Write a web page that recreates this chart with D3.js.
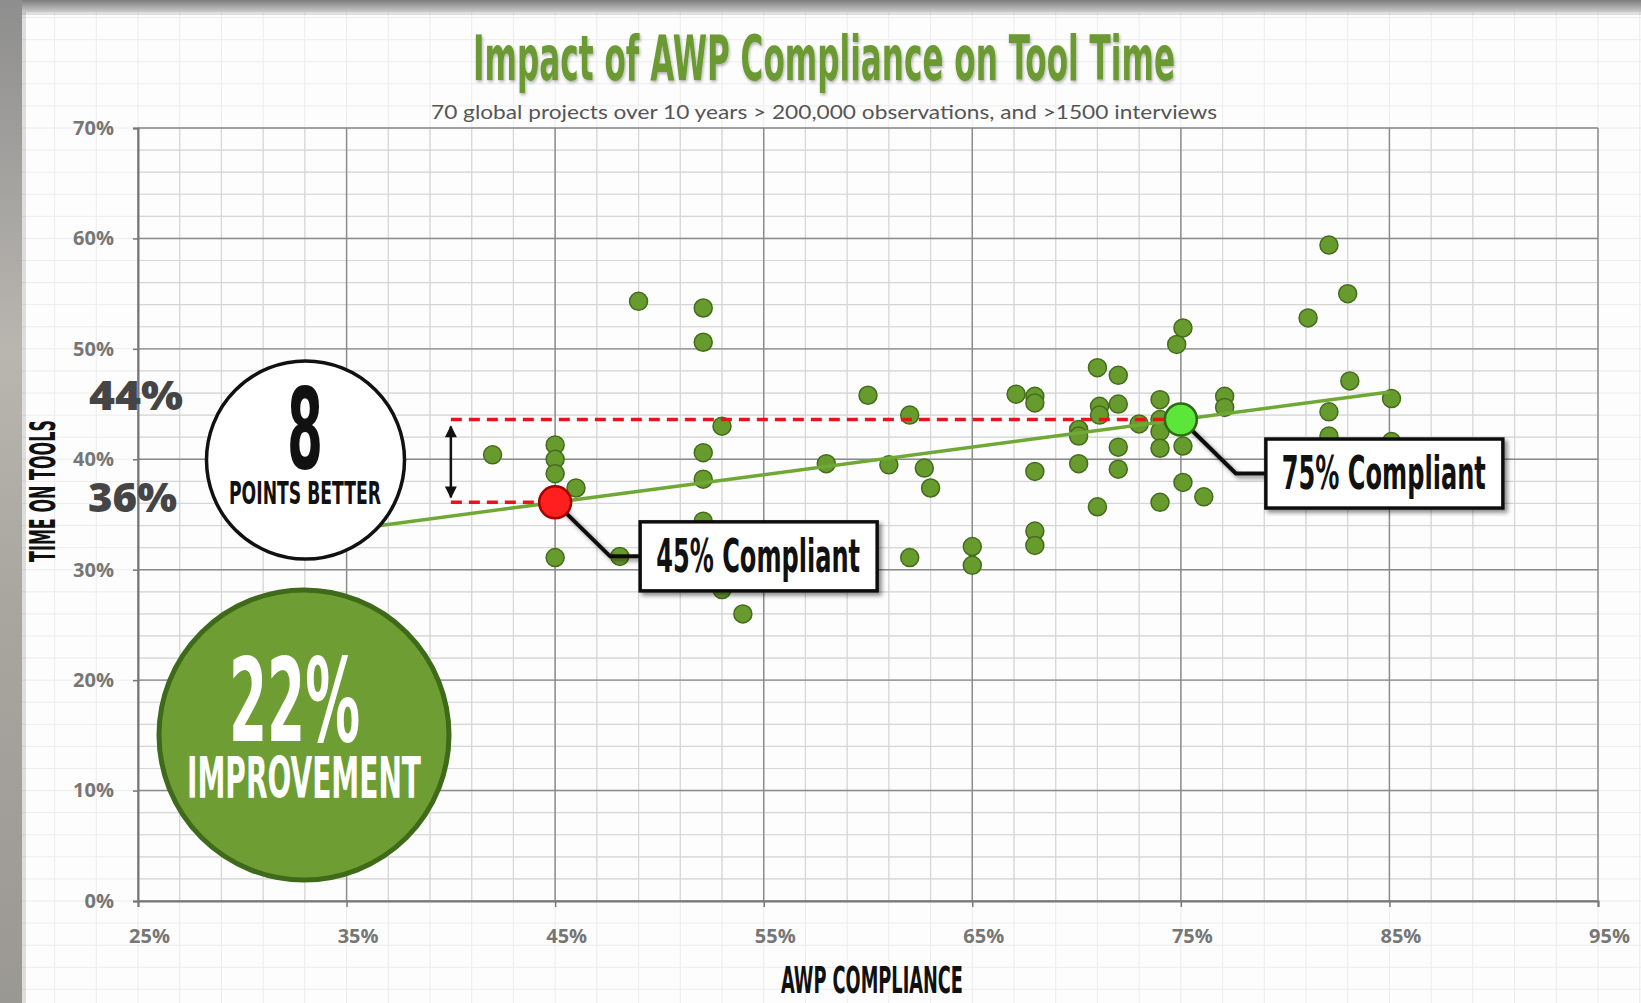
<!DOCTYPE html>
<html>
<head>
<meta charset="utf-8">
<script src="https://cdn.jsdelivr.net/npm/d3@7"></script>
<style>
  body { margin: 0; background: #fff; }
  svg { display: block; }
</style>
</head>
<body>
<div id="chart"></div>
<script>
// scatter: AWP compliance (%) vs time on tools (%)
var compliance = [42.0, 45.0, 45.0, 45.0, 45.0, 46.0, 48.1, 49.0, 52.1, 52.1, 52.1, 52.1, 52.1, 53.0, 53.0, 54.0,
                  58.0, 60.0, 61.0, 62.0, 62.7, 63.0, 62.0, 65.0, 65.0,
                  67.1, 68.0, 68.0, 68.0, 68.0, 68.0, 70.1, 70.1, 70.1, 71.0, 71.1, 71.1, 71.0,
                  72.0, 72.0, 72.0, 72.0, 73.0, 74.0, 74.0, 74.0, 74.0, 74.0, 74.8, 75.1, 75.1, 75.1,
                  76.1, 77.1, 77.1, 81.1, 82.1, 82.1, 82.1, 83.0, 83.1, 85.1, 85.1];
var toolTime   = [40.4, 41.3, 40.0, 38.7, 31.1, 37.4, 31.2, 54.3, 53.7, 50.6, 40.6, 38.2, 34.4, 43.0, 28.2, 26.0,
                  39.6, 45.8, 39.5, 44.0, 39.2, 37.4, 31.1, 32.1, 30.4,
                  45.9, 45.7, 45.1, 38.9, 33.5, 32.2, 42.7, 42.1, 39.6, 48.3, 44.8, 44.0, 35.7,
                  47.6, 45.0, 41.1, 39.1, 43.2, 45.4, 43.6, 42.5, 41.0, 36.1, 50.4, 51.9, 41.2, 37.9,
                  36.6, 45.7, 44.7, 52.8, 59.4, 44.3, 42.1, 55.0, 47.1, 45.5, 41.6];

var xTicks = [25, 35, 45, 55, 65, 75, 85, 95];
var yTicks = [0, 10, 20, 30, 40, 50, 60, 70];

var highlightX = [45, 75];
var highlightY = [36.1, 43.6];
var highlightLabels = ["45% Compliant", "75% Compliant"];
var highlightColors = ["#ff1f1f", "#5de63a"];
var highlightStroke = ["#a30000", "#2d6a12"];

var trendX = [35, 85];
var trendY = [33.6, 46.1];

var gapStart = 40;          // red dashed guides start here
var gapLabels = ["44%", "36%"];

var width = 1641, height = 1003;
var condensed = "'Liberation Sans Narrow', 'DejaVu Sans Condensed', 'Roboto Condensed', sans-serif";

var svg = d3.select("#chart").append("svg")
    .attr("width", width)
    .attr("height", height);

var defs = svg.append("defs");

var sh = defs.append("filter").attr("id", "shadow").attr("x", "-10%").attr("y", "-10%").attr("width", "130%").attr("height", "140%");
sh.append("feDropShadow").attr("dx", 3).attr("dy", 3).attr("stdDeviation", 2).attr("flood-color", "#000").attr("flood-opacity", 0.45);

var tsh = defs.append("filter").attr("id", "tshadow").attr("x", "-5%").attr("y", "-20%").attr("width", "110%").attr("height", "150%");
tsh.append("feDropShadow").attr("dx", 1).attr("dy", 2).attr("stdDeviation", 1.5).attr("flood-color", "#000").attr("flood-opacity", 0.3);

var topGrad = defs.append("linearGradient").attr("id", "topGrad").attr("x1", 0).attr("y1", 0).attr("x2", 0).attr("y2", 1);
topGrad.append("stop").attr("offset", "0%").attr("stop-color", "#7c7c7c");
topGrad.append("stop").attr("offset", "100%").attr("stop-color", "#c9c9c9");

var leftGrad = defs.append("linearGradient").attr("id", "leftGrad").attr("x1", 0).attr("y1", 0).attr("x2", 0).attr("y2", 1);
leftGrad.append("stop").attr("offset", "0%").attr("stop-color", "#8e8e8e");
leftGrad.append("stop").attr("offset", "35%").attr("stop-color", "#b9b6b0");
leftGrad.append("stop").attr("offset", "60%").attr("stop-color", "#a9a6a0");
leftGrad.append("stop").attr("offset", "100%").attr("stop-color", "#9a9893");

defs.append("marker")
    .attr("id", "arrow")
    .attr("viewBox", "0 0 10 10")
    .attr("refX", 9).attr("refY", 5)
    .attr("markerWidth", 13).attr("markerHeight", 12)
    .attr("markerUnits", "userSpaceOnUse")
    .attr("orient", "auto-start-reverse")
  .append("path")
    .attr("d", "M0,0 L10,5 L0,10 z")
    .attr("fill", "#111");

var x = d3.scaleLinear().domain([25, 95]).range([138, 1598]);
var y = d3.scaleLinear().domain([0, 70]).range([901, 128]);

svg.append("rect").attr("width", width).attr("height", height).attr("fill", "#fdfdfd");

// faint graph-paper background
var bg = svg.append("g");
bg.selectAll(".bgv").data(d3.range(17, 103, 2)).enter().append("line")
    .attr("x1", function(d) { return x(d); }).attr("x2", function(d) { return x(d); })
    .attr("y1", 0).attr("y2", height)
    .attr("stroke", "#ececec").attr("stroke-width", 1);
bg.selectAll(".bgh").data(d3.range(-10, 84, 2)).enter().append("line")
    .attr("y1", function(d) { return y(d); }).attr("y2", function(d) { return y(d); })
    .attr("x1", 0).attr("x2", width)
    .attr("stroke", "#ececec").attr("stroke-width", 1);

// photo frame edges
svg.append("rect").attr("x", 0).attr("y", 0).attr("width", width).attr("height", 12).attr("fill", "url(#topGrad)");
svg.append("rect").attr("x", 0).attr("y", 0).attr("width", 22).attr("height", height).attr("fill", "url(#leftGrad)");
svg.append("rect").attr("x", 22).attr("y", 12).attr("width", 4).attr("height", height).attr("fill", "#000").attr("opacity", 0.12);
svg.append("rect").attr("x", 22).attr("y", 12).attr("width", width).attr("height", 3).attr("fill", "#000").attr("opacity", 0.12);

// plot grid
var grid = svg.append("g");
grid.selectAll(".mv").data(d3.range(25, 95.1, 2)).enter().append("line")
    .attr("x1", function(d) { return x(d); }).attr("x2", function(d) { return x(d); })
    .attr("y1", y(0)).attr("y2", y(70))
    .attr("stroke", "#d6d6d6").attr("stroke-width", 1.2);
grid.selectAll(".mh").data(d3.range(0, 70.1, 2)).enter().append("line")
    .attr("y1", function(d) { return y(d); }).attr("y2", function(d) { return y(d); })
    .attr("x1", x(25)).attr("x2", x(95))
    .attr("stroke", "#d6d6d6").attr("stroke-width", 1.2);
grid.selectAll(".jv").data(xTicks).enter().append("line")
    .attr("x1", function(d) { return x(d); }).attr("x2", function(d) { return x(d); })
    .attr("y1", y(0)).attr("y2", y(70))
    .attr("stroke", "#8a8a8a").attr("stroke-width", 1.4);
grid.selectAll(".jh").data(yTicks).enter().append("line")
    .attr("y1", function(d) { return y(d); }).attr("y2", function(d) { return y(d); })
    .attr("x1", x(25)).attr("x2", x(95))
    .attr("stroke", "#8a8a8a").attr("stroke-width", 1.4);

// axes
var xAxis = svg.append("g")
    .attr("transform", "translate(0," + y(0) + ")")
    .call(d3.axisBottom(x).tickValues(xTicks).tickFormat(function(d) { return d + "%"; }).tickSize(6).tickPadding(22));
var yAxis = svg.append("g")
    .attr("transform", "translate(" + x(25) + ",0)")
    .call(d3.axisLeft(y).tickValues(yTicks).tickFormat(function(d) { return d + "%"; }).tickSize(5).tickPadding(19));
[xAxis, yAxis].forEach(function(a) {
    a.select(".domain").attr("stroke", "#777").attr("stroke-width", 2);
    a.selectAll(".tick line").attr("stroke", "#777").attr("stroke-width", 1.5);
    a.selectAll(".tick text")
        .attr("fill", "#767676")
        .style("font-family", "'Open Sans', sans-serif")
        .style("font-weight", 700)
        .style("font-size", "20px");
});
xAxis.selectAll(".tick text").attr("dx", 11);

// scatter points
var pts = compliance.map(function(c, i) { return { x: c, y: toolTime[i] }; });
svg.append("g").selectAll("circle").data(pts).enter().append("circle")
    .attr("cx", function(d) { return x(d.x); })
    .attr("cy", function(d) { return y(d.y); })
    .attr("r", 9)
    .attr("fill", "#689b2d")
    .attr("stroke", "#436c1b")
    .attr("stroke-width", 1.5);

// trend line
var trend = trendX.map(function(t, i) { return [t, trendY[i]]; });
svg.append("path")
    .attr("d", d3.line().x(function(d) { return x(d[0]); }).y(function(d) { return y(d[1]); })(trend))
    .attr("fill", "none")
    .attr("stroke", "#6fa834")
    .attr("stroke-width", 3.5);

// red dashed guides
svg.append("line")
    .attr("x1", x(gapStart)).attr("x2", x(highlightX[1]))
    .attr("y1", y(highlightY[1])).attr("y2", y(highlightY[1]))
    .attr("stroke", "#e8141b").attr("stroke-width", 3.5).attr("stroke-dasharray", "11,7");
svg.append("line")
    .attr("x1", x(gapStart)).attr("x2", x(highlightX[0]))
    .attr("y1", y(highlightY[0])).attr("y2", y(highlightY[0]))
    .attr("stroke", "#e8141b").attr("stroke-width", 3.5).attr("stroke-dasharray", "11,7");

svg.append("line")
    .attr("x1", x(gapStart)).attr("x2", x(gapStart))
    .attr("y1", y(highlightY[1]) + 7).attr("y2", y(highlightY[0]) - 5)
    .attr("stroke", "#111").attr("stroke-width", 2.5)
    .attr("marker-start", "url(#arrow)")
    .attr("marker-end", "url(#arrow)");

// highlighted projects with callouts
highlightX.forEach(function(hx, i) {
    var cx = x(hx), cy = y(highlightY[i]);
    var elbowX = cx + 55, elbowY = cy + 54;
    var boxX = elbowX + 30, boxW = 237, boxH = 69;
    svg.append("path")
        .attr("d", "M" + cx + "," + cy + "L" + elbowX + "," + elbowY + "L" + boxX + "," + elbowY)
        .attr("fill", "none").attr("stroke", "#111").attr("stroke-width", 4)
        .attr("filter", "url(#shadow)");
    svg.append("circle")
        .attr("cx", cx).attr("cy", cy).attr("r", 16)
        .attr("fill", highlightColors[i])
        .attr("stroke", highlightStroke[i]).attr("stroke-width", 2.5);
    svg.append("rect")
        .attr("x", boxX).attr("y", elbowY - boxH / 2)
        .attr("width", boxW).attr("height", boxH)
        .attr("fill", "#fff").attr("stroke", "#111").attr("stroke-width", 3.5)
        .attr("filter", "url(#shadow)");
    svg.append("text")
        .attr("x", boxX + 16).attr("y", elbowY - boxH / 2 + 50)
        .attr("font-family", condensed).attr("font-weight", "bold")
        .attr("font-size", 47)
        .attr("textLength", 204).attr("lengthAdjust", "spacingAndGlyphs")
        .attr("fill", "#111")
        .text(highlightLabels[i]);
});

// "8 POINTS BETTER" badge
svg.append("circle").attr("cx", 305.5).attr("cy", 460).attr("r", 99)
    .attr("fill", "#fff").attr("stroke", "#111").attr("stroke-width", 3.5);
svg.append("text").attr("x", 287).attr("y", 468)
    .attr("font-family", condensed).attr("font-weight", "bold").attr("font-size", 112)
    .attr("textLength", 36).attr("lengthAdjust", "spacingAndGlyphs").attr("fill", "#111")
    .text("8");
svg.append("text").attr("x", 229).attr("y", 504)
    .attr("font-family", condensed).attr("font-weight", "bold").attr("font-size", 32)
    .attr("textLength", 152).attr("lengthAdjust", "spacingAndGlyphs").attr("fill", "#111")
    .text("POINTS BETTER");

// "22% IMPROVEMENT" badge
svg.append("circle").attr("cx", 304).attr("cy", 735).attr("r", 145)
    .attr("fill", "#6e9e33").attr("stroke", "#3e6a1a").attr("stroke-width", 5);
svg.append("text").attr("x", 229).attr("y", 741)
    .attr("font-family", condensed).attr("font-weight", "bold").attr("font-size", 115)
    .attr("textLength", 131).attr("lengthAdjust", "spacingAndGlyphs").attr("fill", "#fff")
    .text("22%");
svg.append("text").attr("x", 187).attr("y", 798)
    .attr("font-family", condensed).attr("font-weight", "bold").attr("font-size", 57)
    .attr("textLength", 234).attr("lengthAdjust", "spacingAndGlyphs").attr("fill", "#fff")
    .text("IMPROVEMENT");

// 44% / 36% side labels
svg.append("text").attr("x", 89).attr("y", 410)
    .attr("font-family", "'Open Sans', sans-serif").attr("font-weight", 800).attr("font-size", 41)
    .attr("textLength", 94).attr("lengthAdjust", "spacingAndGlyphs").attr("fill", "#454545")
    .text(gapLabels[0]);
svg.append("text").attr("x", 88).attr("y", 512)
    .attr("font-family", "'Open Sans', sans-serif").attr("font-weight", 800).attr("font-size", 41)
    .attr("textLength", 89).attr("lengthAdjust", "spacingAndGlyphs").attr("fill", "#454545")
    .text(gapLabels[1]);

// titles
svg.append("text").attr("x", 473).attr("y", 80)
    .attr("font-family", condensed).attr("font-weight", "bold").attr("font-size", 63)
    .attr("textLength", 702).attr("lengthAdjust", "spacingAndGlyphs")
    .attr("fill", "#6c9a30").attr("filter", "url(#tshadow)")
    .text("Impact of AWP Compliance on Tool Time");
svg.append("text").attr("x", 431).attr("y", 119)
    .attr("font-family", "Lato, sans-serif").attr("font-size", 20)
    .attr("textLength", 786).attr("lengthAdjust", "spacingAndGlyphs")
    .attr("fill", "#555")
    .text("70 global projects over 10 years > 200,000 observations, and >1500 interviews");

svg.append("text").attr("transform", "translate(55,562) rotate(-90)")
    .attr("font-family", condensed).attr("font-weight", "bold").attr("font-size", 36)
    .attr("textLength", 142).attr("lengthAdjust", "spacingAndGlyphs").attr("fill", "#111")
    .text("TIME ON TOOLS");
svg.append("text").attr("x", 781).attr("y", 993)
    .attr("font-family", condensed).attr("font-weight", "bold").attr("font-size", 37)
    .attr("textLength", 182).attr("lengthAdjust", "spacingAndGlyphs").attr("fill", "#111")
    .text("AWP COMPLIANCE");
</script>
</body>
</html>
